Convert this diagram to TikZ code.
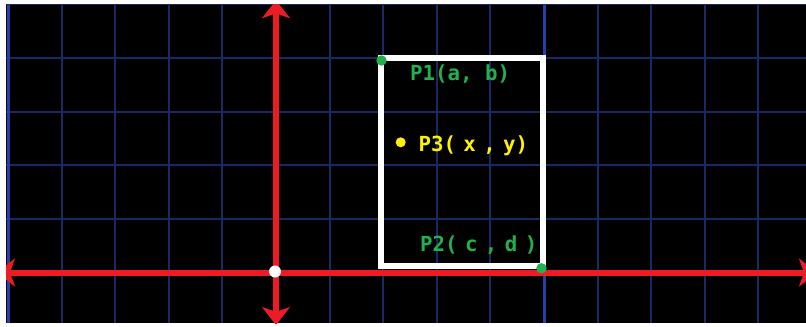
\documentclass[tikz,border=0pt]{standalone}
\usepackage{fontspec}
\newfontfamily\lblfont{DejaVu Sans Mono}
\usetikzlibrary{arrows.meta}
\definecolor{gridblue}{RGB}{26,40,100}
\definecolor{gridbright}{RGB}{36,64,170}
\definecolor{axisred}{RGB}{237,28,36}
\definecolor{ptgreen}{RGB}{34,177,76}
\definecolor{ptyellow}{RGB}{255,242,0}
\newcommand\nsp{\hspace{3.7pt}}
\begin{document}
\begin{tikzpicture}[x=0.5pt,y=-0.5pt,
  gridline/.style={draw=gridblue,line width=1pt},
  gridmajor/.style={draw=gridbright,line width=1.5pt},
  axisline/.style={draw=axisred,line width=3pt,
    {Stealth[length=9pt,width=14pt,inset=2.5pt]}-{Stealth[length=9pt,width=14pt,inset=2.5pt]}},
  boxline/.style={draw=white,line width=3pt,line join=miter},
  ptdot/.style={circle,inner sep=0pt,minimum size=#1},
  lbl/.style={anchor=base west,inner sep=0pt,
    font=\lblfont\bfseries\fontsize{10.38pt}{12pt}\selectfont}
]
\useasboundingbox[fill=white] (0,0) rectangle (806,326);
\begin{scope}
\clip (6,5) rectangle (806,323);
\fill[black] (6,5) rectangle (806,323);
% grid
\foreach \k in {0,...,14}
  \draw[gridline] ({8+53.6*\k},5) -- ({8+53.6*\k},323);
\foreach \k in {1,...,5}
  \draw[gridline] (6,{272.5-53.6*\k}) -- (806,{272.5-53.6*\k});
\draw[gridmajor] (8,5) -- (8,323);
\draw[gridmajor] (544,5) -- (544,323);
% axes
\coordinate (xl) at (-3,272.5);
\coordinate (xr) at (817,272.5);
\coordinate (yb) at (276,325);
\coordinate (yt) at (276,0.3);
\draw[axisline] (xl) -- (xr);
\draw[axisline] (yb) -- (yt);
% rectangle
\coordinate (rtl) at (381,58);
\coordinate (rbr) at (543,266);
\draw[boxline] (rtl) rectangle (rbr);
% dots
\node[ptdot=6pt,fill=white] (o) at (275,271.5) {};
\node[ptdot=5.2pt,fill=ptgreen] (p1) at (381.5,60.5) {};
\node[ptdot=5.2pt,fill=ptgreen] (p2) at (541.5,268.3) {};
\node[ptdot=5pt,fill=ptyellow] (p3) at (400.7,142.3) {};
\end{scope}
% labels
\node[lbl,text=ptgreen] (p1lbl) at (409.8,81) {P1(a, b)};
\node[lbl,text=ptyellow] (p3lbl) at (418.1,151) {P3(\nsp x\nsp ,\nsp y)};
\node[lbl,text=ptgreen] (p2lbl) at (419.8,251) {P2(\nsp c\nsp ,\nsp d\nsp )};
\end{tikzpicture}
\end{document}
